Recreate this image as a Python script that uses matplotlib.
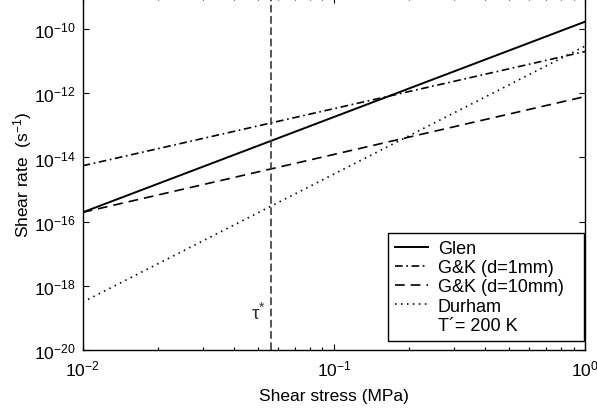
import math

import matplotlib
matplotlib.use("Agg")
import matplotlib.pyplot as plt
from matplotlib.lines import Line2D
from matplotlib.ticker import FixedLocator, NullLocator, FuncFormatter

plt.rcParams['font.family'] = ['Liberation Sans', 'DejaVu Sans']
plt.rcParams['mathtext.fontset'] = 'custom'
plt.rcParams['mathtext.rm'] = 'Liberation Sans'
plt.rcParams['mathtext.it'] = 'Liberation Sans:italic'
plt.rcParams['lines.scale_dashes'] = False

# Flow laws for ice: strain rate (s^-1) at the ends of the stress range (MPa)
stress = [0.01, 1.0]
glen = [1.95e-16, 1.7e-10]
gk_1mm = [5.5e-15, 2.0e-11]
gk_10mm = [1.95e-16, 7.9e-13]
durham = [3.1e-19, 2.95e-11]

tau_star = 0.056
legend_labels = ["Glen", "G&K (d=1mm)", "G&K (d=10mm)", "Durham", "T\u00b4= 200 K"]

fig = plt.figure(figsize=(5.97, 4.10), dpi=100)
ax = fig.add_axes([0.1385, 0.1439, 0.8415, 0.861])

ax.plot(stress, glen, color="k", lw=1.4, label=legend_labels[0])
ax.plot(stress, gk_1mm, color="k", lw=1.2, linestyle=(0, (5.5, 2.6, 1.2, 2.6)),
        label=legend_labels[1])
ax.plot(stress, gk_10mm, color="k", lw=1.2, linestyle=(0, (7, 4.3)),
        label=legend_labels[2])
ax.plot(stress, durham, color="k", lw=1.2, linestyle=(0, (1.1, 3.2)),
        label=legend_labels[3])

ax.axvline(tau_star, color="#3a3a3a", lw=1.2, linestyle=(0, (5.5, 2.6)))
ax.text(tau_star / 1.04, 1.6e-19, "\u03c4$^{*}$", ha="right", va="center",
        fontsize=14, color="#333333")

ax.set_xscale("log")
ax.set_yscale("log")
ax.set_xlim(1e-2, 1e0)
ax.set_ylim(1e-20, 1e-9)

ax.yaxis.set_major_locator(FixedLocator([10.0**e for e in range(-20, -9, 2)]))
ax.yaxis.set_minor_locator(NullLocator())


def pow_label(v, pos):
    e = int(round(math.log10(v)))
    return r"$\mathregular{10^{%d}}$" % e


ax.xaxis.set_major_formatter(FuncFormatter(pow_label))
ax.yaxis.set_major_formatter(FuncFormatter(pow_label))

ax.tick_params(which="both", direction="in", top=True, right=True,
               labelsize=12.5, width=0.8)
ax.tick_params(which="major", length=4.5, pad=6)
ax.tick_params(which="minor", length=2.5)
ax.tick_params(axis="y", pad=5)
for s in ax.spines.values():
    s.set_linewidth(1.0)

ax.set_xlabel("Shear stress (MPa)", fontsize=12.5, labelpad=7)
ax.set_ylabel(r"Shear rate  (s$^{\mathregular{-1}}$)", fontsize=12.5, labelpad=0)

handles, labels = ax.get_legend_handles_labels()
handles.append(Line2D([], [], color="none"))
labels.append(legend_labels[4])
# legend box stretched over the right part of the axes
leg = ax.legend(handles, labels, loc="lower left",
                bbox_to_anchor=(0.608, 0.0255, 0.39, 0.3), mode="expand",
                borderaxespad=0, fontsize=13, fancybox=False, framealpha=1,
                edgecolor="k", labelspacing=0.12, handlelength=1.8,
                handletextpad=0.55, borderpad=0.4)
leg.get_frame().set_linewidth(1.0)

fig.savefig("out.png", dpi=100)
